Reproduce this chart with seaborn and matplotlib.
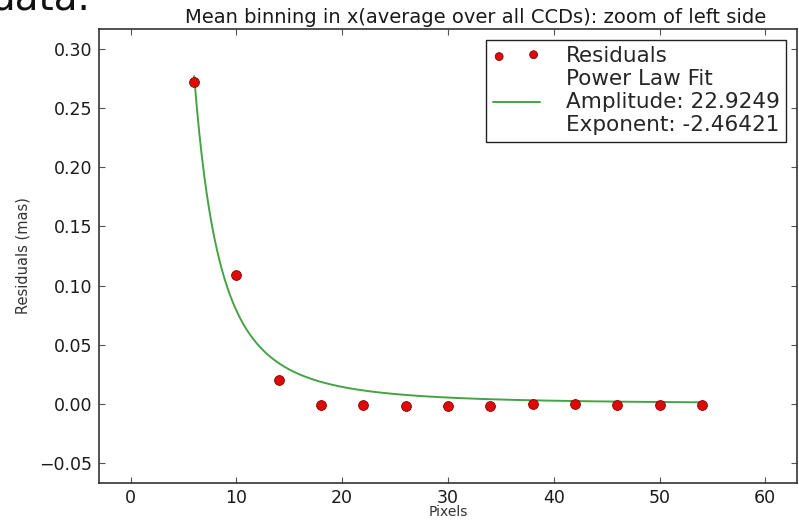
import numpy as np
import pandas as pd
import matplotlib
matplotlib.use("Agg")
import matplotlib.pyplot as plt
import seaborn as sns

# data
pixels = [6, 10, 14, 18, 22, 26, 30, 34, 38, 42, 46, 50, 54]
residuals = [0.272, 0.109, 0.020, -0.0008, -0.001, -0.0018, -0.0018,
             -0.0015, -0.0006, 0.0002, -0.0012, -0.0012, -0.0013]
fit_amplitude = 22.9249
fit_exponent = -2.46421
x_ticks = [0, 10, 20, 30, 40, 50, 60]
y_ticks = [-0.05, 0.00, 0.05, 0.10, 0.15, 0.20, 0.25, 0.30]

sns.set_style("white")
plt.rcParams['font.family'] = ['DejaVu Sans']

fig = plt.figure(figsize=(7.99, 5.20), dpi=100)
ax = fig.add_axes([99/799, 1 - 483/520, (797 - 99)/799, (483 - 29)/520])

df = pd.DataFrame({"Pixels": pixels, "Residuals": residuals})
xfit = np.linspace(min(pixels), max(pixels), 400)
fit_df = pd.DataFrame({"x": xfit, "y": fit_amplitude * xfit ** fit_exponent})

sns.lineplot(data=fit_df, x="x", y="y", ax=ax, color="#45a345", lw=1.4,
             label="Power Law Fit\nAmplitude: %.4f\nExponent: %.5f" % (fit_amplitude, fit_exponent),
             zorder=2)
sns.scatterplot(data=df, x="Pixels", y="Residuals", ax=ax, color="#dd0a0a",
                edgecolor="#8a0000", linewidth=0.6, s=50, marker="o",
                label="Residuals", zorder=3)

ax.set_xlim(-3, 63)
ax.set_ylim(-0.067, 0.317)
ax.set_xticks(x_ticks)
ax.set_yticks(y_ticks)
ax.set_yticklabels(["\u22120.05" if v < 0 else "%.2f" % v for v in y_ticks])
ax.tick_params(direction="in", length=4, width=0.8, colors="#555555",
               labelcolor="#1a1a1a", labelsize=12.5, top=True, right=True,
               bottom=True, left=True, pad=5)
ax.tick_params(axis="x", pad=4)
for s in ax.spines.values():
    s.set_color("#333333")
    s.set_linewidth(1.2)

ax.set_xlabel("Pixels", fontsize=10, color="#333333", labelpad=-1)
ax.set_ylabel("Residuals (mas)", fontsize=10.5, color="#333333", labelpad=6)
ax.set_title("Mean binning in x(average over all CCDs): zoom of left side",
             fontsize=14, color="#1a1a1a", pad=4, x=0.539)

handles, labels = ax.get_legend_handles_labels()
# order: Residuals first
order = [labels.index("Residuals")] + [i for i, l in enumerate(labels) if l != "Residuals"]
leg = ax.legend([handles[i] for i in order], [labels[i] for i in order],
                loc="upper right", fontsize=15.5, frameon=True, fancybox=False,
                edgecolor="#222222", framealpha=1, scatterpoints=2,
                markerscale=0.8, borderaxespad=0.5, handlelength=2.2,
                labelspacing=0.12, borderpad=0.3, handletextpad=1.2)
leg.get_frame().set_linewidth(1.0)

fig.text(-0.012, 1 - 10/520, "data.", fontsize=28, color="#111111",
         va="baseline", ha="left")

fig.savefig("out.png", dpi=100)
